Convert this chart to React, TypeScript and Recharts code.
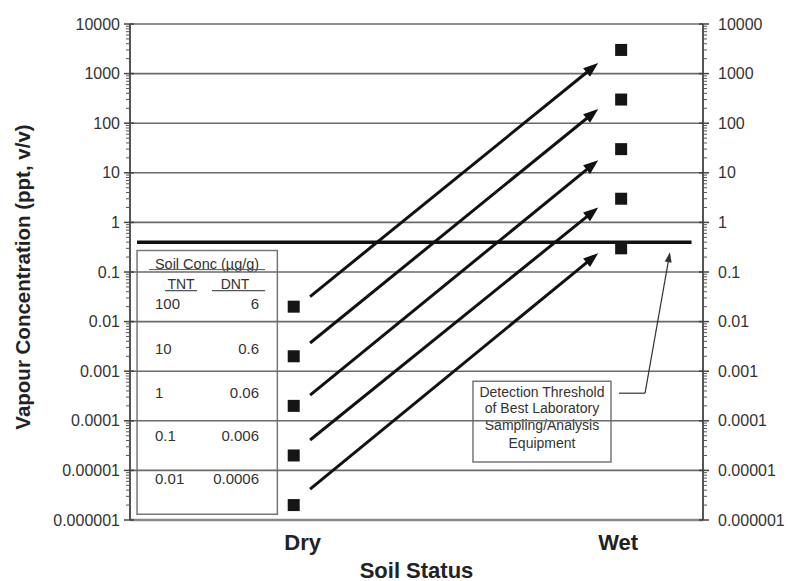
import React from "react";
import {
  ComposedChart,
  Scatter,
  XAxis,
  YAxis,
  ReferenceLine,
  ReferenceArea,
  Label,
} from "recharts";

if (typeof document !== "undefined") {
  document.body.style.margin = "0";
  document.documentElement.style.overflow = "hidden";
}

// ---- data ----
const categories = ["Dry", "Wet"];
const categoryX = [1, 3];
const dryValues = [0.02, 0.002, 0.0002, 0.00002, 0.000002];
const wetValues = [3000, 300, 30, 3, 0.3];
const arrowStartX = 1.1;
const arrowEndX = 2.86;
const arrowStart = [0.032, 0.0037, 0.00033, 0.000041, 0.0000042];
const arrowEnd = [1630, 193, 18, 2.0, 0.24];
const threshold = 0.4;
const thresholdX = [0.043, 3.43];
const majorTicks = [1e-6, 1e-5, 1e-4, 1e-3, 1e-2, 1e-1, 1, 10, 100, 1000, 10000];
const majorLabels = ["0.000001", "0.00001", "0.0001", "0.001", "0.01", "0.1", "1", "10", "100", "1000", "10000"];
const tntConc = ["100", "10", "1", "0.1", "0.01"];
const dntConc = ["6", "0.6", "0.06", "0.006", "0.0006"];
const legendTitle = "Soil Conc (\u00b5g/g)";
const detectionText = ["Detection Threshold", "of Best Laboratory", "Sampling/Analysis", "Equipment"];
const legendBoxX = [0.043, 0.9];
const legendBoxY = [1.3e-6, 0.27];
const detectBoxX = [2.095, 2.938];
const detectBoxY = [1.48e-5, 6.3e-4];
const leaderPoints = [
  { x: 2.987, y: 3.6e-4 },
  { x: 3.146, y: 3.6e-4 },
  { x: 3.298, y: 0.25 },
];

const minorTicks: number[] = [];
for (let i = 0; i < majorTicks.length - 1; i++) {
  for (let m = 2; m <= 9; m++) minorTicks.push(majorTicks[i] * m);
}
const allTicks = [...majorTicks, ...minorTicks].sort((a, b) => a - b);

const points = [
  ...dryValues.map((v) => ({ x: categoryX[0], y: v })),
  ...wetValues.map((v) => ({ x: categoryX[1], y: v })),
];

const FONT = "'Liberation Sans', Arial, sans-serif";
const GRID = "#6a6a6a";
const TXT = "#333";

const majorIndex = (v: number) =>
  majorTicks.findIndex((m) => Math.abs(Math.log10(m) - Math.log10(v)) < 1e-6);

const LeftTick = (props: any) => {
  const { x, y, payload } = props;
  const idx = majorIndex(payload.value);
  if (idx < 0) {
    return <line x1={x - 4} x2={x} y1={y} y2={y} stroke="#555" strokeWidth={1} />;
  }
  return (
    <g>
      <line x1={x - 6} x2={x + 4} y1={y} y2={y} stroke="#444" strokeWidth={1.5} />
      <text x={x - 10} y={y} dy={5.5} textAnchor="end" fontSize={16} fill={TXT} fontFamily={FONT}>
        {majorLabels[idx]}
      </text>
    </g>
  );
};

const RightTick = (props: any) => {
  const { x, y, payload } = props;
  const idx = majorIndex(payload.value);
  if (idx < 0) {
    return <line x1={x} x2={x + 4} y1={y} y2={y} stroke="#555" strokeWidth={1} />;
  }
  return (
    <g>
      <line x1={x - 4} x2={x + 6} y1={y} y2={y} stroke="#444" strokeWidth={1.5} />
      <text x={x + 15} y={y} dy={5.5} textAnchor="start" fontSize={16} fill={TXT} fontFamily={FONT}>
        {majorLabels[idx]}
      </text>
    </g>
  );
};

const labelShift: Record<string, number> = { Dry: 9, Wet: -3 };
const XTick = (props: any) => {
  const { x, y, payload } = props;
  const i = categoryX.indexOf(payload.value);
  const name = categories[i] ?? "";
  return (
    <text x={x + (labelShift[name] ?? 0)} y={y} dy={30} textAnchor="middle" fontSize={22} fontWeight="bold" fill="#222" fontFamily={FONT}>
      {name}
    </text>
  );
};

const makeArrow = (headLen: number, headW: number, color: string, width: number) => (p: any) => {
  const { x1, y1, x2, y2 } = p;
  const dx = x2 - x1;
  const dy = y2 - y1;
  const L = Math.hypot(dx, dy) || 1;
  const ux = dx / L;
  const uy = dy / L;
  const bx = x2 - ux * headLen;
  const by = y2 - uy * headLen;
  const px = -uy;
  const py = ux;
  const pts = `${x2},${y2} ${bx + (px * headW) / 2},${by + (py * headW) / 2} ${bx - (px * headW) / 2},${by - (py * headW) / 2}`;
  return (
    <g>
      <line x1={x1} y1={y1} x2={bx + ux * 2} y2={by + uy * 2} stroke={color} strokeWidth={width} />
      <polygon points={pts} fill={color} />
    </g>
  );
};

const plainLine = (color: string, width: number) => (p: any) => (
  <line x1={p.x1} y1={p.y1} x2={p.x2} y2={p.y2} stroke={color} strokeWidth={width} />
);

const bigArrow = makeArrow(15, 11, "#111", 3);
const smallArrow = makeArrow(10, 7, "#333", 1.2);

const SquareShape = (props: any) => {
  const { cx, cy } = props;
  return <rect x={cx - 6} y={cy - 6} width={12} height={12} fill="#151515" />;
};

const LegendContent = (props: any) => {
  const vb = props.viewBox;
  const x0 = vb.x;
  const y0 = vb.y;
  const rowY = [53, 98, 142, 185, 228];
  const common = { fontFamily: FONT, fontSize: 15, fill: TXT };
  return (
    <g>
      <text x={x0 + 70} y={y0 + 13} dy={5} textAnchor="middle" {...common} fontSize={14.5}>
        {legendTitle}
      </text>
      <line x1={x0 + 12} x2={x0 + 128} y1={y0 + 19} y2={y0 + 19} stroke="#555" strokeWidth={1} />
      <text x={x0 + 44} y={y0 + 33} dy={5} textAnchor="middle" {...common} fontSize={14}>
        TNT
      </text>
      <line x1={x0 + 28} x2={x0 + 60} y1={y0 + 40} y2={y0 + 40} stroke="#555" strokeWidth={1.2} />
      <text x={x0 + 98} y={y0 + 33} dy={5} textAnchor="middle" {...common} fontSize={14}>
        DNT
      </text>
      <line x1={x0 + 75} x2={x0 + 128} y1={y0 + 40} y2={y0 + 40} stroke="#555" strokeWidth={1.2} />
      {tntConc.map((t, i) => (
        <text key={"t" + i} x={x0 + 18} y={y0 + rowY[i]} dy={5.5} textAnchor="start" {...common}>
          {t}
        </text>
      ))}
      {dntConc.map((t, i) => (
        <text key={"d" + i} x={x0 + 122} y={y0 + rowY[i]} dy={5.5} textAnchor="end" {...common}>
          {t}
        </text>
      ))}
    </g>
  );
};

const DetectContent = (props: any) => {
  const vb = props.viewBox;
  const cx = vb.x + vb.width / 2;
  const ys = [11, 27, 44, 62];
  return (
    <g>
      {detectionText.map((t, i) => (
        <text key={i} x={cx} y={vb.y + ys[i]} dy={5} textAnchor="middle" fontFamily={FONT} fontSize={14} fill={TXT}>
          {t}
        </text>
      ))}
    </g>
  );
};

const YTitle = (props: any) => {
  const vb = props.viewBox;
  const cx = vb.x - 28;
  const cy = vb.y + vb.height / 2 + 5;
  return (
    <text x={cx} y={cy} transform={`rotate(-90 ${cx} ${cy})`} textAnchor="middle" dominantBaseline="central" fontSize={20.5} fontWeight="bold" fill="#222" fontFamily={FONT}>
      Vapour Concentration (ppt, v/v)
    </text>
  );
};

const XTitle = (props: any) => {
  const vb = props.viewBox;
  const cx = vb.x + vb.width / 2;
  const cy = vb.y + vb.height + 10;
  return (
    <text x={cx} y={cy} textAnchor="middle" dominantBaseline="central" fontSize={22} fontWeight="bold" fill="#222" fontFamily={FONT}>
      Soil Status
    </text>
  );
};

export default function App() {
  return (
    <div style={{ width: 780, height: 573, padding: "8px 0 0 8px", background: "#fff", margin: 0 }}>
      <ComposedChart width={780} height={573} margin={{ top: 16, right: 15, bottom: 21, left: 42 }}>
        <XAxis
          type="number"
          dataKey="x"
          domain={[0, 3.5]}
          ticks={categoryX}
          allowDataOverflow
          height={40}
          tickSize={0}
          tickMargin={0}
          tick={<XTick />}
          axisLine={{ stroke: "#888", strokeWidth: 2.5 }}
          tickLine={false}
          interval={0}
        >
          <Label content={XTitle} />
        </XAxis>
        <YAxis
          yAxisId="left"
          type="number"
          scale="log"
          domain={[1e-6, 10000]}
          allowDataOverflow
          ticks={allTicks}
          interval={0}
          width={80}
          tickSize={0}
          tickMargin={0}
          tick={<LeftTick />}
          axisLine={{ stroke: "#555", strokeWidth: 2 }}
          tickLine={false}
        >
          <Label content={YTitle} />
        </YAxis>
        <YAxis
          yAxisId="right"
          orientation="right"
          type="number"
          scale="log"
          domain={[1e-6, 10000]}
          allowDataOverflow
          ticks={allTicks}
          interval={0}
          width={70}
          tickSize={0}
          tickMargin={0}
          tick={<RightTick />}
          axisLine={{ stroke: "#555", strokeWidth: 2 }}
          tickLine={false}
        />
        {majorTicks.map((v) => (
          <ReferenceLine key={"g" + v} yAxisId="left" y={v} stroke={GRID} strokeWidth={1.6} ifOverflow="visible" />
        ))}
        <ReferenceArea
          yAxisId="left"
          x1={legendBoxX[0]}
          x2={legendBoxX[1]}
          y1={legendBoxY[0]}
          y2={legendBoxY[1]}
          fill="#fff"
          fillOpacity={1}
          stroke="#777"
          strokeWidth={1.5}
          label={LegendContent}
        />
        <ReferenceArea
          yAxisId="left"
          x1={detectBoxX[0]}
          x2={detectBoxX[1]}
          y1={detectBoxY[0]}
          y2={detectBoxY[1]}
          fill="#fff"
          fillOpacity={1}
          stroke="#777"
          strokeWidth={1.5}
          label={DetectContent}
        />
        <ReferenceLine
          yAxisId="left"
          segment={[
            { x: thresholdX[0], y: threshold },
            { x: thresholdX[1], y: threshold },
          ]}
          shape={plainLine("#111", 3.5)}
        />
        {arrowStart.map((s, i) => (
          <ReferenceLine
            key={"a" + i}
            yAxisId="left"
            segment={[
              { x: arrowStartX, y: s },
              { x: arrowEndX, y: arrowEnd[i] },
            ]}
            shape={bigArrow}
          />
        ))}
        <ReferenceLine
          yAxisId="left"
          segment={[leaderPoints[0], leaderPoints[1]]}
          shape={plainLine("#333", 1.2)}
        />
        <ReferenceLine
          yAxisId="left"
          segment={[leaderPoints[1], leaderPoints[2]]}
          shape={smallArrow}
        />
        <Scatter yAxisId="left" data={points} dataKey="y" shape={SquareShape} isAnimationActive={false} />
      </ComposedChart>
    </div>
  );
}
